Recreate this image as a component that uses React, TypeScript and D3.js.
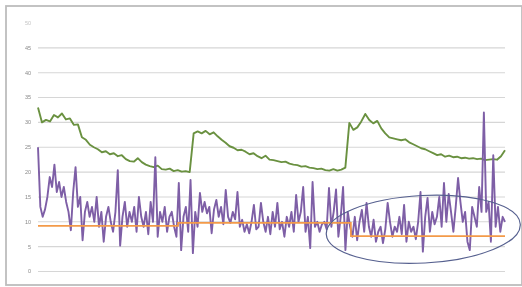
import React from "react";
import * as d3 from "d3";

const yTicks = [0, 5, 10, 15, 20, 25, 30, 35, 40, 45];
const yTopLabel = 50;

const greenValues = [
  33, 30, 30.5, 30.2, 31.5, 31, 31.8, 30.6, 30.8, 29.5,
  29.6, 27, 26.5, 25.5, 25, 24.6, 24, 24.2, 23.6, 23.8,
  23.2, 23.4, 22.6, 22.2, 22.1, 22.8, 22, 21.5, 21.2, 21,
  21.3, 20.6, 20.5, 20.7, 20.2, 20.4, 20.1, 20.2, 20, 27.8,
  28.2, 27.8, 28.3, 27.6, 28, 27.2, 26.5, 25.9, 25.2, 24.9,
  24.4, 24.5, 24.1, 23.6, 23.8, 23.2, 22.8, 23.3, 22.5, 22.4,
  22.2, 22, 22.1, 21.7, 21.5, 21.4, 21.1, 21.2, 20.9, 20.8,
  20.6, 20.7, 20.4, 20.3, 20.6, 20.3, 20.5, 20.9, 29.9, 28.5,
  29, 30.2, 31.7, 30.5, 29.8, 30.3, 28.8, 27.8, 27, 26.8,
  26.6, 26.4, 26.6, 26, 25.6, 25.2, 24.8, 24.6, 24.2, 23.8,
  23.4, 23.6, 23.1, 23.3, 23, 23.1, 22.8, 22.9, 22.7, 22.8,
  22.6, 22.7, 22.4, 22.5, 22.6, 22.5, 23.2, 24.4,
];

const purpleValues = [
  25, 13, 11, 12.5, 15, 19, 17, 21.5, 16, 18,
  15, 17, 14, 12, 8.3, 16, 21, 13, 15, 6.3,
  12, 14, 11, 13, 10, 15, 9, 12, 6, 11,
  13, 10, 8, 12, 20.4, 5.2, 11, 14, 9, 12,
  10, 13, 8, 15, 11, 9, 12, 7.5, 14, 10,
  23, 7, 12, 10, 13, 8, 11, 12, 9, 7,
  17.8, 4.3, 11, 13, 8, 18.4, 3.7, 12, 9, 15.8,
  12, 14, 11.7, 13, 7.7, 12.5, 14.4, 11, 13, 9.5,
  16.4, 11, 9.8, 12, 10.5, 16, 9, 10.4, 8, 9.5,
  7.7, 10, 13.4, 8.5, 9, 13.8, 10, 8, 11, 7.5,
  12, 9, 13.8, 8.5, 10, 7, 11, 9, 12, 8,
  15.4, 10, 12, 17, 8, 11, 4.7, 18, 9, 10,
  8, 9.5, 10, 8.5, 16.8, 9, 12, 16.5, 7, 11,
  17, 4.3, 12, 9, 7, 11, 6.3, 10, 12.4, 8,
  13.8, 9, 7, 10.4, 6, 8, 9, 5.7, 8.5, 13.8,
  10, 7, 9, 8, 11, 7.5, 13.4, 6, 10, 8,
  9, 6.5, 10, 16, 4, 11, 14.8, 8, 12, 9.5,
  11, 15, 9, 17.8, 10, 15.6, 12, 8, 13, 18.8,
  14, 10, 12, 6, 4.3, 13, 11, 9, 17, 12,
  32, 12, 14, 6, 23.4, 9, 13, 8, 11, 10,
];

const orangePos = [0, 0.3, 0.67, 1];
const orangeLevels = [9.2, 9.8, 7.1, 7.1];

const ellipseCenter = [0.825, 8.5];
const ellipseRadius = [0.208, 6.8];

export default function App() {
  const W = 522;
  const H = 287;
  const x0 = 38;
  const x1 = 505;
  const x = d3.scaleLinear().domain([0, 1]).range([x0, x1]);
  const y = d3.scaleLinear().domain([0, 50]).range([271.5, 23]);

  const line = d3
    .line<[number, number]>()
    .x((d) => x(d[0]))
    .y((d) => y(d[1]));

  const greenPts: [number, number][] = greenValues.map((v, i) => [
    i / (greenValues.length - 1),
    v,
  ]);
  const purplePts: [number, number][] = purpleValues.map((v, i) => [
    i / (purpleValues.length - 1),
    v,
  ]);
  const orangePts: [number, number][] = orangePos.map((p, i) => [
    p,
    orangeLevels[i],
  ]);
  const orangeLine = d3
    .line<[number, number]>()
    .x((d) => x(d[0]))
    .y((d) => y(d[1]))
    .curve(d3.curveStepAfter);

  const cx = x(ellipseCenter[0]);
  const cy = y(ellipseCenter[1]);
  const rx = x(ellipseRadius[0]) - x(0);
  const ry = y(0) - y(ellipseRadius[1]);

  return (
    <svg
      width={W}
      height={H}
      style={{ position: "absolute", left: 0, top: 0, background: "#fff" }}
      fontFamily="Liberation Sans, Arial, sans-serif"
    >
      <defs>
        <filter id="soft" x="-5%" y="-5%" width="110%" height="110%">
          <feGaussianBlur stdDeviation="0.45" />
        </filter>
      </defs>
      <rect x={0} y={0} width={W} height={H} fill="#fff" />
      <rect
        x={6}
        y={6}
        width={516}
        height={279}
        fill="#fff"
        stroke="#bdbdbd"
        strokeWidth={1.8}
      />
      <g filter="url(#soft)">
        {yTicks.map((t) => (
          <g key={t}>
            <line
              x1={x0}
              x2={x1}
              y1={y(t)}
              y2={y(t)}
              stroke="#d6d6d6"
              strokeWidth={1.1}
            />
            <text
              x={31}
              y={y(t)}
              dy="0.35em"
              textAnchor="end"
              fontSize={5.5}
              fill="#888"
            >
              {t}
            </text>
          </g>
        ))}
        <text
          x={31}
          y={y(yTopLabel)}
          dy="0.35em"
          textAnchor="end"
          fontSize={5.5}
          fill="#c4c4c4"
        >
          {yTopLabel}
        </text>
        <path
          d={line(greenPts) || ""}
          fill="none"
          stroke="#6a9141"
          strokeWidth={1.9}
          strokeLinejoin="round"
        />
        <path
          d={line(purplePts) || ""}
          fill="none"
          stroke="#7e5ea6"
          strokeWidth={1.9}
          strokeLinejoin="round"
        />
        <path
          d={orangeLine(orangePts) || ""}
          fill="none"
          stroke="#f39a4a"
          strokeWidth={1.7}
        />
        <ellipse
          cx={cx}
          cy={cy}
          rx={rx}
          ry={ry}
          fill="none"
          stroke="#56608f"
          strokeWidth={1.2}
          transform={`rotate(-3 ${cx} ${cy})`}
        />
      </g>
    </svg>
  );
}
